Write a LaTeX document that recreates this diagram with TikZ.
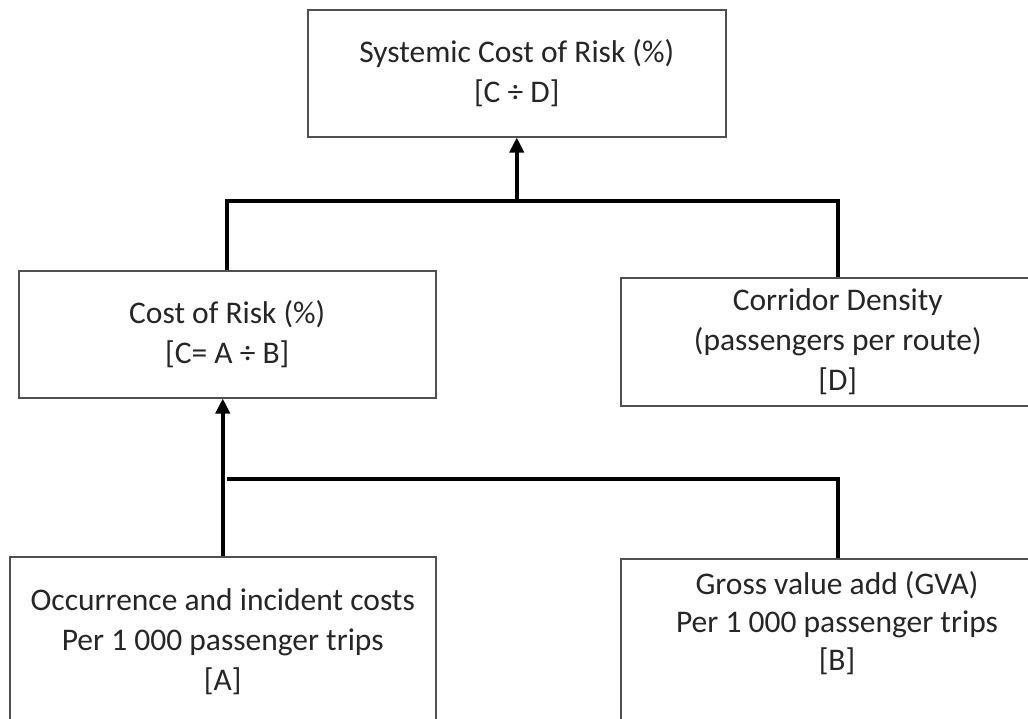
\documentclass[tikz,border=0pt]{standalone}
\usepackage{fontspec}
\setmainfont{Carlito}
\usetikzlibrary{arrows.meta}
\definecolor{boxline}{HTML}{505050}
\definecolor{txt}{HTML}{262626}
\begin{document}
\begin{tikzpicture}[x=1pt,y=-1pt,
  box/.style={draw=boxline, line width=1.5pt, rectangle, inner sep=0pt, text=txt,
    align=center, font=\fontsize{31.5}{40}\selectfont},
  boxtext/.style={inner sep=0pt, text=txt, align=center, font=\fontsize{31.5}{38}\selectfont},
  conn/.style={line width=4pt, black},
  arr/.style={conn, -{Triangle[length=15pt,width=14pt]}}]
\useasboundingbox (0,0) rectangle (1028,718);
\clip (0,0) rectangle (1028,718);
\fill[white] (0,0) rectangle (1028,718);
% boxes
\node (top) [box, minimum width=418, minimum height=127, anchor=north west] at (307,9)
  {Systemic Cost of Risk (\%)\\{[}C ÷ D{]}};
\node (cor) [box, minimum width=417, minimum height=127, anchor=north west] at (18,270)
  {Cost of Risk (\%)\\{[}C= A ÷ B{]}};
\node (cd) [box, minimum width=434, minimum height=128, anchor=north west] at (620,277)
  {Corridor Density\\(passengers per route)\\{[}D{]}};
\node (occ) [box, minimum width=426, minimum height=170, anchor=north west] at (9,556)
  {Occurrence and incident costs\\Per 1 000 passenger trips\\{[}A{]}};
\node (gva) [box, minimum width=434, minimum height=200, anchor=north west] at (620,558) {};
\node (gvatext) [boxtext] at (837,623)
  {Gross value add (GVA)\\Per 1 000 passenger trips\\{[}B{]}};
% junction coordinates
\coordinate (j1) at (top.south |- 0,201);
\coordinate (j2) at (227,479);
% connectors to top
\draw[conn, line cap=butt] (cor.north) -- (cor.north |- j1) -- (cd.north |- j1) -- (cd.north);
\draw[arr] (j1) -- (top.south);
% connectors to cost of risk
\draw[conn] (j2) -- (gva.north |- j2) -- (gva.north);
\draw[arr] (occ.north) -- (occ.north |- cor.south);
\end{tikzpicture}
\end{document}
